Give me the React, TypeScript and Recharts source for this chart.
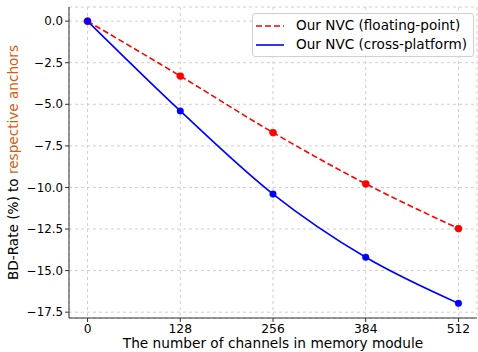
import { LineChart, Line, CartesianGrid, XAxis, YAxis } from "recharts";

const channels = [0, 128, 256, 384, 512];
const floatingPoint = [0, -3.3, -6.7, -9.78, -12.47];
const crossPlatform = [0, -5.4, -10.4, -14.2, -16.97];
const yTicks = [0, -2.5, -5, -7.5, -10, -12.5, -15, -17.5];

const data = channels.map((c, i) => ({
  channels: c,
  floating: floatingPoint[i],
  cross: crossPlatform[i],
}));

const FONT = "DejaVu Sans, sans-serif";

const fmtY = (v: number) => v.toFixed(1).replace("-", "\u2212");

const YLabel = (props: any) => {
  const vb = props.viewBox || {};
  const cy = vb.y + vb.height / 2;
  const x = 18;
  return (
    <text
      x={x}
      y={cy}
      transform={`rotate(-90, ${x}, ${cy})`}
      textAnchor="middle"
      fontFamily={FONT}
      fontSize={13.6}
    >
      <tspan fill="#000">BD-Rate (%) to </tspan>
      <tspan fill="#d2600f">respective anchors</tspan>
    </text>
  );
};

const XLabel = (props: any) => {
  const vb = props.viewBox || {};
  return (
    <text
      x={vb.x + vb.width / 2}
      y={348}
      textAnchor="middle"
      fontFamily={FONT}
      fontSize={13.7}
      fill="#000"
    >
      The number of channels in memory module
    </text>
  );
};

const LegendBox = () => (
  <div
    style={{
      position: "absolute",
      left: 252,
      top: 13,
      width: 222,
      height: 44,
      boxSizing: "border-box",
      border: "1px solid #d0d0d0",
      borderRadius: 3,
      background: "rgba(255,255,255,0.85)",
      padding: "2px 0 0 3px",
      fontFamily: FONT,
      fontSize: 13.6,
      color: "#000",
      lineHeight: "19px",
    }}
  >
    <div style={{ display: "flex", alignItems: "center" }}>
      <svg width={28} height={10} style={{ marginRight: 12 }}>
        <line x1={0} y1={5} x2={28} y2={5} stroke="#ff0000" strokeWidth={1.6} strokeDasharray="6 3" />
      </svg>
      Our NVC (floating-point)
    </div>
    <div style={{ display: "flex", alignItems: "center" }}>
      <svg width={28} height={10} style={{ marginRight: 12 }}>
        <line x1={0} y1={5} x2={28} y2={5} stroke="#0000ff" strokeWidth={1.6} />
      </svg>
      Our NVC (cross-platform)
    </div>
  </div>
);

export default function App() {
  return (
    <div style={{ position: "absolute", left: 0, top: 0, width: 478, height: 352, background: "#fff" }}>
      <LineChart
        width={478}
        height={352}
        data={data}
        margin={{ top: 7, right: 1, left: 0, bottom: 0 }}
      >
        <CartesianGrid stroke="#d0d0d0" strokeDasharray="3 3" />
        <XAxis
          dataKey="channels"
          type="number"
          domain={[-25.6, 537.6]}
          ticks={channels}
          height={34}
          tickSize={4}
          tickLine={{ stroke: "#333" }}
          axisLine={{ stroke: "#333" }}
          tick={{ fill: "#000", fontSize: 12.3, fontFamily: FONT }}
          label={<XLabel />}
        />
        <XAxis xAxisId="top" orientation="top" dataKey="channels" type="number" domain={[-25.6, 537.6]} height={0} tick={false} tickLine={false} axisLine={{ stroke: "#333" }} />
        <YAxis
          type="number"
          domain={[-17.85, 0.85]}
          ticks={yTicks}
          width={69}
          tickSize={4}
          tickFormatter={fmtY}
          tickLine={{ stroke: "#333" }}
          axisLine={{ stroke: "#333" }}
          tick={{ fill: "#000", fontSize: 11.8, fontFamily: FONT }}
          label={<YLabel />}
        />
        <YAxis yAxisId="right" orientation="right" domain={[-17.85, 0.85]} width={0} tick={false} tickLine={false} axisLine={{ stroke: "#333" }} />
        <Line
          type="monotone"
          dataKey="floating"
          stroke="#ff0000"
          strokeWidth={1.6}
          strokeDasharray="6 3"
          dot={{ r: 3.6, fill: "#ff0000", stroke: "#ff0000", strokeWidth: 0.5 }}
          isAnimationActive={false}
        />
        <Line
          type="monotone"
          dataKey="cross"
          stroke="#0000ff"
          strokeWidth={1.6}
          dot={{ r: 3.3, fill: "#0000ff", stroke: "#0000ff", strokeWidth: 0.5 }}
          isAnimationActive={false}
        />
      </LineChart>
      <LegendBox />
    </div>
  );
}
